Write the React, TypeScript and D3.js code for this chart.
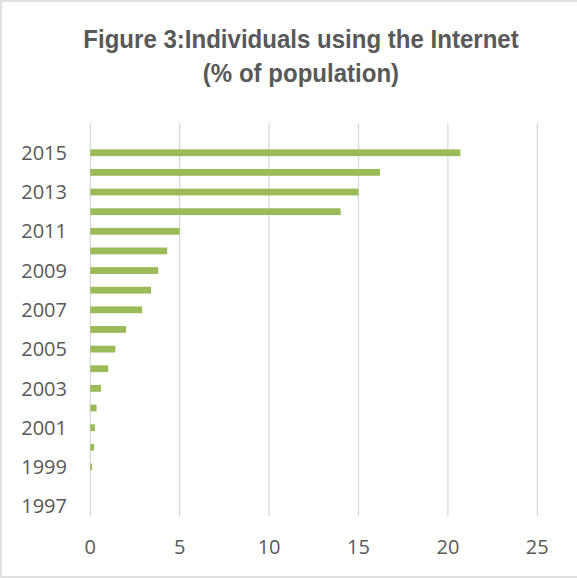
import React from "react";
import * as d3 from "d3";

const years: string[] = [
  "1997", "1998", "1999", "2000", "2001", "2002", "2003", "2004", "2005", "2006",
  "2007", "2008", "2009", "2010", "2011", "2012", "2013", "2014", "2015", "2016",
];
const values: (number | null)[] = [
  0, 0, 0.1, 0.22, 0.26, 0.35, 0.6, 1.0, 1.4, 2.0,
  2.9, 3.4, 3.8, 4.3, 5.0, 14.0, 15.0, 16.2, 20.7, null,
];
const yearLabels: string[] = ["1997", "1999", "2001", "2003", "2005", "2007", "2009", "2011", "2013", "2015"];
const xTicks: number[] = [0, 5, 10, 15, 20, 25];
const titleLines: string[] = ["Figure 3:Individuals using the Internet", "(% of population)"];

const W = 577;
const H = 578;
const plotLeft = 90.3;
const plotRight = 537.3;
const plotTop = 123.3;
const plotBottom = 516;

export default function App() {
  const x = d3.scaleLinear().domain([0, 25]).range([plotLeft, plotRight]);
  const y = d3
    .scaleBand<string>()
    .domain([...years].reverse())
    .range([plotTop, plotBottom])
    .paddingInner(0.66)
    .paddingOuter(0.33);
  const barH = 6.8;
  const labelFont = "'Open Sans', 'Liberation Sans', sans-serif";

  return (
    <svg
      width={W}
      height={H}
      style={{ position: "absolute", left: 0, top: 0, background: "#fff" }}
    >
      <rect x={0} y={0} width={W} height={H} fill="#fff" />
      <rect x={1} y={1} width={600} height={576} fill="none" stroke="#d9d9d9" strokeWidth={1.6} />
      {titleLines.map((t, i) => (
        <text
          key={t}
          transform={`translate(301, ${48 + i * 33.5}) scale(0.925, 1)`}
          textAnchor="middle"
          fill="#595959"
          fontFamily="'Liberation Sans Narrow', 'Arial Narrow', 'Liberation Sans', sans-serif"
          fontWeight="bold"
          fontSize={26}
        >
          {t}
        </text>
      ))}
      {xTicks.map((t) => (
        <line
          key={"g" + t}
          x1={x(t)}
          x2={x(t)}
          y1={plotTop}
          y2={plotBottom}
          stroke="#d9d9d9"
          strokeWidth={1.3}
        />
      ))}
      {years.map((yr, i) => {
        const v = values[i];
        if (v == null || v <= 0) return null;
        const cy = (y(yr) as number) + y.bandwidth() / 2;
        return (
          <rect
            key={"b" + yr}
            x={x(0)}
            y={cy - barH / 2}
            width={x(v) - x(0)}
            height={barH}
            fill="#9bbb59"
          />
        );
      })}
      {yearLabels.map((yr) => {
        const cy = (y(yr) as number) + y.bandwidth() / 2;
        return (
          <text
            key={"l" + yr}
            x={67}
            y={cy}
            dy="0.36em"
            textAnchor="end"
            fill="#595959"
            fontFamily={labelFont}
            fontSize={20}
          >
            {yr}
          </text>
        );
      })}
      {xTicks.map((t) => (
        <text
          key={"t" + t}
          x={x(t)}
          y={547}
          dy="0.36em"
          textAnchor="middle"
          fill="#595959"
          fontFamily={labelFont}
          fontSize={20}
        >
          {t}
        </text>
      ))}
    </svg>
  );
}
